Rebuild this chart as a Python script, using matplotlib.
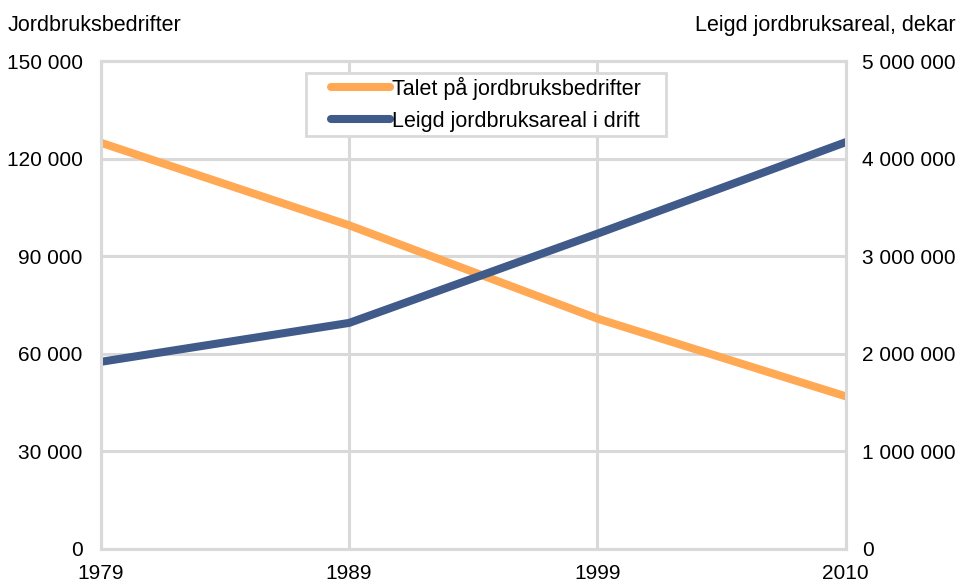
import matplotlib.pyplot as plt
from matplotlib.patches import Rectangle

plt.rcParams['font.family'] = ['Liberation Sans', 'DejaVu Sans']

# data
years = ['1979', '1989', '1999', '2010']
bedrifter = [124900, 99500, 70800, 46900]          # talet på jordbruksbedrifter
leigd_areal = [1917000, 2316000, 3231000, 4169000]  # leigd jordbruksareal i drift, dekar

left_ticks = [0, 30000, 60000, 90000, 120000, 150000]
right_ticks = [0, 1000000, 2000000, 3000000, 4000000, 5000000]

orange = '#FFA955'
blue = '#405A8A'
grid = '#D9D9D9'
fs = 15
fs_lab = 15.5


def fmt(v):
    return '{:,}'.format(v).replace(',', ' ')


fig = plt.figure(figsize=(9.6, 5.82), dpi=100)
ax1 = fig.add_axes([0.105, 0.057, 0.776, 0.838])
ax2 = ax1.twinx()

x = list(range(len(years)))
l1, = ax1.plot(x, bedrifter, color=orange, lw=5.8, solid_capstyle='round',
               solid_joinstyle='round', label='Talet på jordbruksbedrifter')
l2, = ax2.plot(x, leigd_areal, color=blue, lw=5.8, solid_capstyle='round',
               solid_joinstyle='round', label='Leigd jordbruksareal i drift')

ax1.set_xlim(0, 3)
ax1.set_ylim(0, 150000)
ax2.set_ylim(0, 5000000)

ax1.set_xticks(x)
ax1.set_xticklabels(years, fontsize=fs)
ax1.set_yticks(left_ticks)
ax1.set_yticklabels([fmt(v) for v in left_ticks], fontsize=fs)
ax2.set_yticks(right_ticks)
ax2.set_yticklabels([fmt(v) for v in right_ticks], fontsize=fs)

ax1.grid(True, color=grid, lw=2.2)
ax1.set_axisbelow(True)
for ax in (ax1, ax2):
    for s in ax.spines.values():
        s.set_color(grid)
        s.set_linewidth(2.2)
    ax.tick_params(length=0)
ax1.tick_params(axis='y', pad=13)
ax1.tick_params(axis='x', pad=11)
ax2.tick_params(axis='y', pad=12)

fig.text(0.008, 0.957, 'Jordbruksbedrifter', fontsize=fs_lab, va='center', ha='left')
fig.text(0.995, 0.957, 'Leigd jordbruksareal, dekar', fontsize=fs_lab, va='center', ha='right')

leg = ax2.legend(handles=[l1, l2], loc='upper center', bbox_to_anchor=(0.517, 0.968),
                 fontsize=fs_lab, frameon=False, handlelength=2.75,
                 handletextpad=0.1, borderpad=0, labelspacing=0.5,
                 borderaxespad=0)

# legend frame drawn by hand: wider side padding than matplotlib allows
fig.canvas.draw()
bb = leg.get_window_extent().transformed(fig.transFigure.inverted())
padx, pady = 25 / 960, 4 / 582
frame = Rectangle((bb.x0 - padx, bb.y0 - pady), bb.width + 2 * padx, bb.height + 2 * pady,
                  transform=fig.transFigure, facecolor='white', edgecolor=grid,
                  lw=2, zorder=4)
fig.patches.append(frame)
leg.set_zorder(5)
fig.legends.append(ax2.get_legend())
ax2.get_legend().remove()

fig.savefig('out.png', dpi=100)
